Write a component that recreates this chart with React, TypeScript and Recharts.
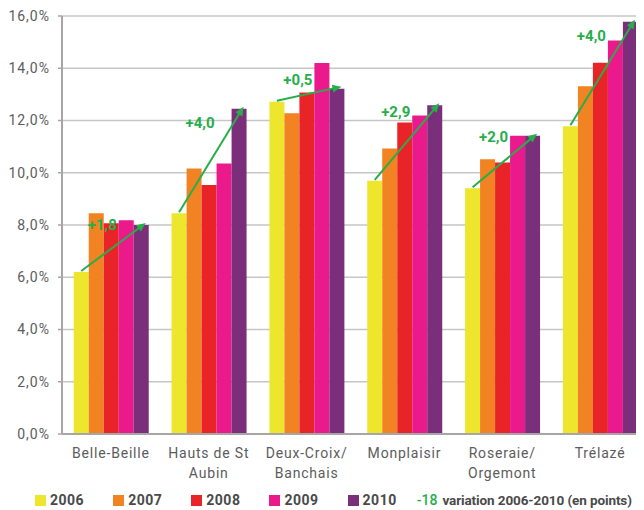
import React from "react";
import {
  BarChart,
  Bar,
  XAxis,
  YAxis,
  CartesianGrid,
  Legend,
  LabelList,
} from "recharts";

const categories = [
  "Belle-Beille",
  "Hauts de St\nAubin",
  "Deux-Croix/\nBanchais",
  "Monplaisir",
  "Roseraie/\nOrgemont",
  "Trélazé",
];
const years = ["2006", "2007", "2008", "2009", "2010"];
const v2006 = [6.2, 8.45, 12.72, 9.69, 9.41, 11.78];
const v2007 = [8.45, 10.16, 12.28, 10.93, 10.52, 13.31];
const v2008 = [8.07, 9.53, 13.07, 11.92, 10.39, 14.21];
const v2009 = [8.18, 10.35, 14.2, 12.19, 11.42, 15.06];
const v2010 = [8.0, 12.45, 13.22, 12.58, 11.42, 15.78];
const variation = [1.8, 4.0, 0.5, 2.9, 2.0, 4.0];
const yTicks = [0, 2, 4, 6, 8, 10, 12, 14, 16];
const edgeTicks = [0, 1, 2, 3, 4, 5, 6];

const COLORS = ["#EDE62C", "#F28322", "#E92429", "#EA1A8C", "#7B2F7B"];
const GREEN = "#27AE4A";
const TEXT = "#5c5c5c";
const FONT = "Roboto, 'DejaVu Sans', sans-serif";

const data = categories.map((name, i) => ({
  name,
  y2006: v2006[i],
  y2007: v2007[i],
  y2008: v2008[i],
  y2009: v2009[i],
  y2010: v2010[i],
}));

const fmtPct = (v: number) => v.toFixed(1).replace(".", ",") + "%";

const CategoryTick = (props: any) => {
  const { x, y, payload } = props;
  const lines = String(payload.value).split("\n");
  return (
    <text
      x={x}
      y={y + 24}
      textAnchor="middle"
      fill={TEXT}
      fontSize={14}
      fontFamily={FONT}
      letterSpacing={0.8}
    >
      {lines.map((l, i) => (
        <tspan key={i} x={x} dy={i === 0 ? 0 : 20}>
          {l}
        </tspan>
      ))}
    </text>
  );
};

// arrow from the top of the 2006 bar to the top of the 2010 bar, plus its label
const VariationArrow = (props: any) => {
  const { index } = props;
  const vb = props.viewBox || {};
  const px = props.x ?? vb.x;
  const py = props.y ?? vb.y;
  const w = props.width ?? vb.width;
  const h = props.height ?? vb.height;
  if (px == null || !w || !h) return null;
  const k = h / v2010[index];
  const bottom = py + h;
  const x1 = px - 4 * w + 0.5 * w;
  const y1 = bottom - v2006[index] * k - 1;
  const x2 = px + 0.8 * w;
  const y2 = py - 2;
  const dx = x2 - x1;
  const dy = y2 - y1;
  const len = Math.sqrt(dx * dx + dy * dy);
  const ux = dx / len;
  const uy = dy / len;
  const hl = 9;
  const hw = 4;
  const bx = x2 - ux * hl;
  const by = y2 - uy * hl;
  const head = `${x2},${y2} ${bx - uy * hw},${by + ux * hw} ${bx + uy * hw},${by - ux * hw}`;
  const lx = px - 1.5 * w - 9;
  const ly = y1 + 0.75 * dy - 10;
  return (
    <g>
      <line x1={x1} y1={y1} x2={bx + ux * 2} y2={by + uy * 2} stroke={GREEN} strokeWidth={2} />
      <polygon points={head} fill={GREEN} />
      <text
        x={lx}
        y={ly}
        textAnchor="middle"
        dominantBaseline="central"
        fill={GREEN}
        fontSize={15}
        fontWeight={700}
        fontFamily={FONT}
      >
        {"+" + variation[index].toFixed(1).replace(".", ",")}
      </text>
    </g>
  );
};

const LegendContent = () => (
  <div
    style={{
      display: "flex",
      alignItems: "center",
      height: 20,
      paddingLeft: 27,
      fontFamily: FONT,
      fontSize: 14,
      fontWeight: 700,
      color: "#4a4a4a",
      whiteSpace: "nowrap",
    }}
  >
    {years.map((yr, i) => (
      <span key={yr} style={{ display: "flex", alignItems: "center", marginRight: 29, letterSpacing: 0.5 }}>
        <span style={{ width: 11, height: 11, background: COLORS[i], marginRight: 4 }} />
        {yr}
      </span>
    ))}
    <span style={{ color: GREEN, fontWeight: 500, marginLeft: -9, marginRight: 5 }}>-18</span>
    <span style={{ fontSize: 13.5, letterSpacing: -0.1 }}>variation 2006-2010 (en points)</span>
  </div>
);

export default function App() {
  return (
    <div style={{ width: 636, height: 502, overflow: "hidden" }}>
      <BarChart
        width={641}
        height={502}
        data={data}
        margin={{ top: 8, right: 0, bottom: 0, left: 0 }}
        barCategoryGap="12%"
        barGap={0}
      >
        <CartesianGrid vertical={false} stroke="#c6c6c6" strokeWidth={1.5} />
        <XAxis
          xAxisId="edges"
          type="number"
          domain={[0, 6]}
          ticks={edgeTicks}
          allowDataOverflow
          tick={false}
          tickSize={4}
          tickLine={{ stroke: "#a6a6a6", strokeWidth: 1.5 }}
          axisLine={false}
          height={0}
        />
        <XAxis
          xAxisId="cat"
          dataKey="name"
          interval={0}
          tick={<CategoryTick />}
          tickLine={false}
          tickSize={0}
          tickMargin={0}
          axisLine={{ stroke: "#a6a6a6", strokeWidth: 2 }}
          height={56}
        />
        <YAxis
          width={54}
          domain={[0, 16]}
          ticks={yTicks}
          tickFormatter={fmtPct}
          tickSize={4}
          tickMargin={8}
          tickLine={{ stroke: "#a6a6a6", strokeWidth: 1.5 }}
          axisLine={{ stroke: "#a6a6a6", strokeWidth: 2 }}
          tick={{ fill: TEXT, fontSize: 14, fontFamily: FONT, letterSpacing: 1 }}
        />
        {years.map((yr, i) => (
          <Bar
            key={yr}
            xAxisId="cat"
            dataKey={"y" + yr}
            fill={COLORS[i]}
            isAnimationActive={false}
          >
            {i === years.length - 1 && (
              <LabelList dataKey={"y" + yr} content={<VariationArrow />} />
            )}
          </Bar>
        ))}
        <Legend
          verticalAlign="bottom"
          height={20}
          wrapperStyle={{ left: 0, width: 641 }}
          content={<LegendContent />}
        />
      </BarChart>
    </div>
  );
}
